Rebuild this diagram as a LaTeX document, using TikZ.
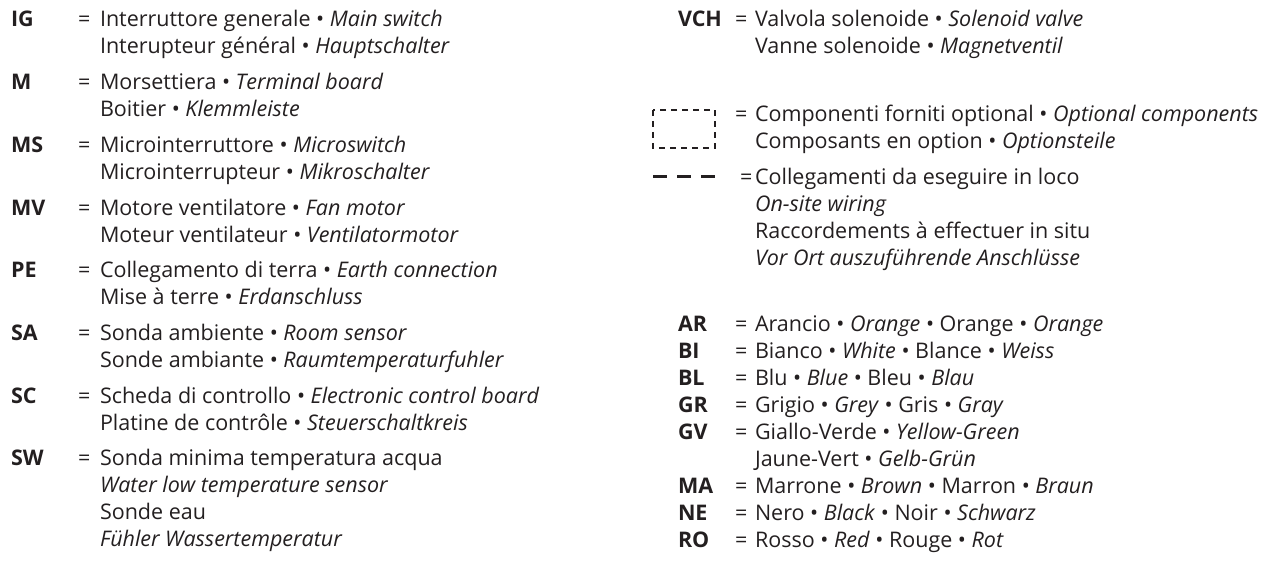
\documentclass[tikz,border=0pt]{standalone}
\usepackage{fontspec}
\setmainfont{Open Sans}
\definecolor{ink}{HTML}{231F20}
\begin{document}
\begin{tikzpicture}[x=1pt,y=-1pt,
  every node/.style={inner sep=0pt,outer sep=0pt,anchor=base west,text=ink,font=\fontsize{21.5}{26}\selectfont},
  keytxt/.style={font=\fontsize{21.5}{26}\selectfont\bfseries},
  eqtxt/.style={},
  bodytxt/.style={},
  optbox/.style={draw=ink,line width=1.8pt,dash pattern=on 6pt off 5pt},
  sitewire/.style={draw=ink,line width=2.4pt,dash pattern=on 14pt off 10pt}]
\useasboundingbox (0,0) rectangle (1263,567);
% ---------------- left column ----------------
\node[keytxt] (kIG) at (11,27) {IG};
\node[eqtxt] (eIG) at (78,27) {=};
\node[bodytxt] (tIGa) at (100,27) {Interruttore generale • \textit{Main switch}};
\node[bodytxt] (tIGb) at (100,54) {Interupteur général • \textit{Hauptschalter}};
\node[keytxt] (kM) at (11,89.7) {M};
\node[eqtxt] (eM) at (78,89.7) {=};
\node[bodytxt] (tMa) at (100,89.7) {Morsettiera • \textit{Terminal board}};
\node[bodytxt] (tMb) at (100,116.7) {Boitier • \textit{Klemmleiste}};
\node[keytxt] (kMS) at (11,152.4) {MS};
\node[eqtxt] (eMS) at (78,152.4) {=};
\node[bodytxt] (tMSa) at (100,152.4) {Microinterruttore • \textit{Microswitch}};
\node[bodytxt] (tMSb) at (100,179.4) {Microinterrupteur • \textit{Mikroschalter}};
\node[keytxt] (kMV) at (11,215.1) {MV};
\node[eqtxt] (eMV) at (78,215.1) {=};
\node[bodytxt] (tMVa) at (100,215.1) {Motore ventilatore • \textit{Fan motor}};
\node[bodytxt] (tMVb) at (100,242.1) {Moteur ventilateur • \textit{Ventilatormotor}};
\node[keytxt] (kPE) at (11,277.8) {PE};
\node[eqtxt] (ePE) at (78,277.8) {=};
\node[bodytxt] (tPEa) at (100,277.8) {Collegamento di terra • \textit{Earth connection}};
\node[bodytxt] (tPEb) at (100,304.8) {Mise à terre • \textit{Erdanschluss}};
\node[keytxt] (kSA) at (11,340.5) {SA};
\node[eqtxt] (eSA) at (78,340.5) {=};
\node[bodytxt] (tSAa) at (100,340.5) {Sonda ambiente • \textit{Room sensor}};
\node[bodytxt] (tSAb) at (100,367.5) {Sonde ambiante • \textit{Raumtemperaturfuhler}};
\node[keytxt] (kSC) at (11,403.2) {SC};
\node[eqtxt] (eSC) at (78,403.2) {=};
\node[bodytxt] (tSCa) at (100,403.2) {Scheda di controllo • \textit{Electronic control board}};
\node[bodytxt] (tSCb) at (100,430.2) {Platine de contrôle • \textit{Steuerschaltkreis}};
\node[keytxt] (kSW) at (11,465.9) {SW};
\node[eqtxt] (eSW) at (78,465.9) {=};
\node[bodytxt] (tSWa) at (100,465.9) {Sonda minima temperatura acqua};
\node[bodytxt] (tSWb) at (100,492.9) {\textit{Water low temperature sensor}};
\node[bodytxt] (tSWc) at (100,519.9) {Sonde eau};
\node[bodytxt] (tSWd) at (100,546.9) {\textit{Fühler Wassertemperatur}};
% ---------------- right column ----------------
\node[keytxt] (kVCH) at (678,27) {VCH};
\node[eqtxt] (eVCH) at (735,27) {=};
\node[bodytxt] (tVCHa) at (755,27) {Valvola solenoide • \textit{Solenoid valve}};
\node[bodytxt] (tVCHb) at (755,54) {Vanne solenoide • \textit{Magnetventil}};
\draw[optbox] (653,110) rectangle (715,148);
\node[eqtxt] (eOPT) at (735,122) {=};
\node[bodytxt] (tOPTa) at (755,122) {Componenti forniti optional • \textit{Optional components}};
\node[bodytxt] (tOPTb) at (755,149) {Composants en option • \textit{Optionsteile}};
\coordinate (wA) at (653,176.5);
\coordinate (wB) at (715,176.5);
\draw[sitewire] (wA) -- (wB);
\node[eqtxt] (eWIR) at (740,184) {=};
\node[bodytxt] (tWIRa) at (755,184) {Collegamenti da eseguire in loco};
\node[bodytxt] (tWIRb) at (755,211) {\textit{On-site wiring}};
\node[bodytxt] (tWIRc) at (755,238) {Raccordements à effectuer in situ};
\node[bodytxt] (tWIRd) at (755,265) {\textit{Vor Ort auszuführende Anschlüsse}};
\node[keytxt] (kAR) at (678,331) {AR};
\node[eqtxt] (eAR) at (735,331) {=};
\node[bodytxt] (tAR) at (755,331) {Arancio • \textit{Orange} • Orange • \textit{Orange}};
\node[keytxt] (kBI) at (678,358) {BI};
\node[eqtxt] (eBI) at (735,358) {=};
\node[bodytxt] (tBI) at (755,358) {Bianco • \textit{White} • Blance • \textit{Weiss}};
\node[keytxt] (kBL) at (678,385) {BL};
\node[eqtxt] (eBL) at (735,385) {=};
\node[bodytxt] (tBL) at (755,385) {Blu • \textit{Blue} • Bleu • \textit{Blau}};
\node[keytxt] (kGR) at (678,412) {GR};
\node[eqtxt] (eGR) at (735,412) {=};
\node[bodytxt] (tGR) at (755,412) {Grigio • \textit{Grey} • Gris • \textit{Gray}};
\node[keytxt] (kGV) at (678,439) {GV};
\node[eqtxt] (eGV) at (735,439) {=};
\node[bodytxt] (tGVa) at (755,439) {Giallo-Verde • \textit{Yellow-Green}};
\node[bodytxt] (tGVb) at (755,466) {Jaune-Vert • \textit{Gelb-Grün}};
\node[keytxt] (kMA) at (678,493) {MA};
\node[eqtxt] (eMA) at (735,493) {=};
\node[bodytxt] (tMA) at (755,493) {Marrone • \textit{Brown} • Marron • \textit{Braun}};
\node[keytxt] (kNE) at (678,520) {NE};
\node[eqtxt] (eNE) at (735,520) {=};
\node[bodytxt] (tNE) at (755,520) {Nero • \textit{Black} • Noir • \textit{Schwarz}};
\node[keytxt] (kRO) at (678,547) {RO};
\node[eqtxt] (eRO) at (735,547) {=};
\node[bodytxt] (tRO) at (755,547) {Rosso • \textit{Red} • Rouge • \textit{Rot}};
\end{tikzpicture}
\end{document}
